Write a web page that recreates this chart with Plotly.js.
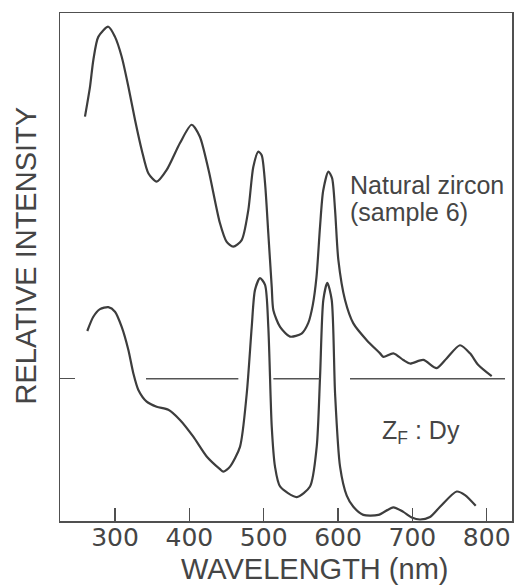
<!DOCTYPE html>
<html>
<head>
<meta charset="utf-8">
<script src="https://cdn.plot.ly/plotly-3.0.1.min.js"></script>
<style>html,body{margin:0;padding:0;background:#fff;}#chart{width:518px;height:586px;}</style>
</head>
<body>
<div id="chart"></div>
<script>
// Natural zircon (sample 6) spectrum — wavelength (nm) and relative intensity (arbitrary units)
var upperWavelength = [259.6, 266.4, 270.8, 277.5, 291, 300, 309, 318, 327, 336, 345, 356, 369.5, 387.4, 403, 414, 426, 441, 450, 459, 470.4, 479.3, 486, 492.8, 497.3, 501.8, 506.2, 510.8, 513, 522, 535.4, 551, 560, 566, 571, 575.8, 580, 587, 592, 596, 600.4, 609.4, 620.6, 638.6, 656.5, 661, 674.4, 687.8, 696.8, 714.7, 732.7, 746, 764, 777.5, 788.7, 806.7];
var upperIntensity = [79.6, 85.5, 90.7, 95.3, 97.3, 95.3, 91.4, 85.5, 78.9, 73.0, 68.4, 66.8, 69.1, 74.4, 78.0, 75.7, 69.0, 58.7, 55.0, 54.0, 55.3, 61.2, 69.7, 72.7, 72.0, 66.5, 56.6, 46.1, 41.5, 38.2, 36.3, 36.9, 39.0, 42.5, 48.0, 58.0, 65.0, 68.8, 67.5, 61.2, 51.4, 43.5, 38.9, 35.6, 33.0, 32.3, 33.0, 31.7, 31.0, 31.7, 30.1, 32.0, 34.6, 33.0, 30.7, 28.5];

// Z_F : Dy spectrum
var lowerWavelength = [262.7, 270.8, 279.8, 291, 300, 309, 317.9, 324.6, 331.4, 342.6, 356, 371.7, 387.4, 405.3, 423.3, 441.2, 445.7, 454.7, 468.1, 477.2, 483.9, 488.3, 495, 501.8, 506.2, 510.8, 515.2, 522, 544.4, 562.3, 571.3, 575.8, 580.2, 585.6, 591.5, 596, 602.7, 611.7, 620.6, 634, 654.2, 674.4, 687.8, 699.1, 710.3, 723.7, 737.2, 759.6, 770.8, 785.2];
var lowerIntensity = [37.4, 40.2, 41.7, 42.1, 41.2, 38.2, 33.7, 29.1, 25.8, 23.5, 22.5, 21.9, 19.9, 16.6, 12.7, 10.2, 9.7, 10.7, 14.6, 25.1, 38.2, 45.5, 47.8, 46.5, 38.2, 18.6, 10.7, 6.8, 4.7, 6.8, 14.6, 28.4, 43.5, 46.9, 43.5, 25.1, 10.7, 5.0, 2.8, 1.2, 1.2, 2.7, 1.8, 0.7, 0.3, 0.8, 2.8, 5.8, 5.1, 3.0];

// Baseline of the upper spectrum, interrupted where the lower curve crosses it
var baselineWavelength = [341.7, 465.9, null, 513, 575.8, null, 616.1, 824.6];
var baselineIntensity = [28, 28, null, 28, 28, null, 28, 28];

var xTickValues = [300, 400, 500, 600, 700, 800];
var xTickLabels = ['300', '400', '500', '600', '700', '800'];
var yTickValues = [28];

var xTitle = 'WAVELENGTH (nm)';
var yTitle = 'RELATIVE INTENSITY';
var sampleLabel = ['Natural zircon', '(sample 6)'];
var dopedLabel = 'Z<sub>F</sub> : Dy';

var lineColor = '#3d3d3d';
var textColor = '#454545';
var textFont = 'Liberation Sans, Arial';

var traces = [
  {x: upperWavelength, y: upperIntensity, type: 'scatter', mode: 'lines',
   line: {color: lineColor, width: 2.2, shape: 'spline', smoothing: 0.7}, name: 'Natural zircon (sample 6)'},
  {x: lowerWavelength, y: lowerIntensity, type: 'scatter', mode: 'lines',
   line: {color: lineColor, width: 2.2, shape: 'spline', smoothing: 0.7}, name: 'ZF: Dy'},
  {x: baselineWavelength, y: baselineIntensity, type: 'scatter', mode: 'lines', connectgaps: false,
   line: {color: '#555', width: 1.3}, name: 'baseline'}
];

var layout = {
  width: 518, height: 586,
  margin: {l: 60, r: 6, t: 13, b: 65, pad: 0},
  paper_bgcolor: '#ffffff', plot_bgcolor: '#ffffff',
  showlegend: false,
  xaxis: {
    range: [226, 834], tickvals: xTickValues, ticktext: xTickLabels,
    ticks: 'inside', ticklen: 13, tickwidth: 1.5, tickcolor: '#505050',
    showline: true, mirror: true, linecolor: '#505050', linewidth: 1.5,
    showgrid: false, zeroline: false, ticklabelstandoff: -7,
    tickfont: {family: 'DejaVu Sans', size: 25, color: textColor}
  },
  yaxis: {
    range: [0, 100], tickvals: yTickValues, showticklabels: false,
    ticks: 'inside', ticklen: 15, tickwidth: 1.3, tickcolor: '#505050',
    showline: true, mirror: true, linecolor: '#505050', linewidth: 1.5,
    showgrid: false, zeroline: false
  },
  annotations: [
    {x: 0.564, y: -0.094, xref: 'paper', yref: 'paper', text: xTitle, showarrow: false,
     xanchor: 'center', yanchor: 'middle', font: {family: textFont, size: 29, color: textColor}},
    {x: -0.076, y: 0.522, xref: 'paper', yref: 'paper', text: yTitle, showarrow: false, textangle: -90,
     xanchor: 'center', yanchor: 'middle', font: {family: textFont, size: 29, color: textColor}},
    {x: 613.4, y: 66.1, xref: 'x', yref: 'y', text: sampleLabel[0], showarrow: false,
     xanchor: 'left', yanchor: 'middle', align: 'left', font: {family: textFont, size: 25, color: textColor}},
    {x: 613.4, y: 60.9, xref: 'x', yref: 'y', text: sampleLabel[1], showarrow: false,
     xanchor: 'left', yanchor: 'middle', align: 'left', font: {family: textFont, size: 25, color: textColor}},
    {x: 711.6, y: 17.5, xref: 'x', yref: 'y', text: dopedLabel, showarrow: false,
     xanchor: 'center', yanchor: 'middle', font: {family: textFont, size: 25, color: textColor}}
  ]
};

Plotly.newPlot('chart', traces, layout, {displayModeBar: false, staticPlot: true});
</script>
</body>
</html>
